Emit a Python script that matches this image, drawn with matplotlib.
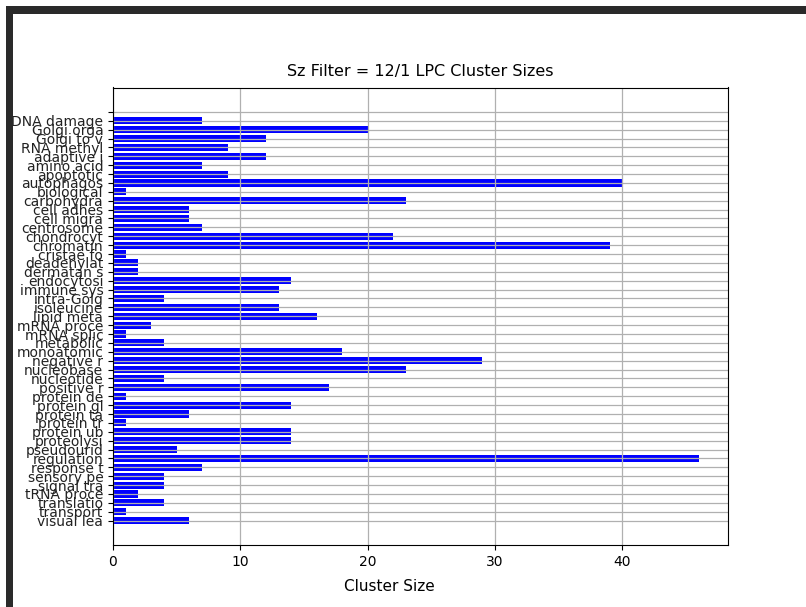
import matplotlib
matplotlib.use("Agg")
import matplotlib.pyplot as plt
from matplotlib.patches import Rectangle

categories = ["", "DNA damage", "Golgi orga", "Golgi to v", "RNA methyl", "adaptive i",
              "amino acid", "apoptotic", "autophagos", "biological", "carbohydra",
              "cell adhes", "cell migra", "centrosome", "chondrocyt", "chromatin",
              "cristae fo", "deadenylat", "dermatan s", "endocytosi", "immune sys",
              "intra-Golg", "isoleucine", "lipid meta", "mRNA proce", "mRNA splic",
              "metabolic", "monoatomic", "negative r", "nucleobase", "nucleotide",
              "positive r", "protein de", "protein gl", "protein ta", "protein tr",
              "protein ub", "proteolysi", "pseudourid", "regulation", "response t",
              "sensory pe", "signal tra", "tRNA proce", "translatio", "transport",
              "visual lea"]
sizes = [0, 7, 20, 12, 9, 12,
         7, 9, 40, 1, 23,
         6, 6, 7, 22, 39,
         1, 2, 2, 14, 13,
         4, 13, 16, 3, 1,
         4, 18, 29, 23, 4,
         17, 1, 14, 6, 1,
         14, 14, 5, 46, 7,
         4, 4, 2, 4, 1,
         6]

title = "Sz Filter = 12/1 LPC Cluster Sizes"
xlabel = "Cluster Size"

W, H = 806, 607
fig = plt.figure(figsize=(W / 100, H / 100), dpi=100)
fig.patch.set_facecolor("white")

# screenshot frame
fig.patches.append(Rectangle((6 / W, 1 - 14 / H), 800 / W, 8 / H, transform=fig.transFigure,
                             facecolor="#2a2a2a", edgecolor="none", zorder=0))
fig.patches.append(Rectangle((6 / W, 0), 7 / W, 1 - 6 / H, transform=fig.transFigure,
                             facecolor="#2a2a2a", edgecolor="none", zorder=0))

ax = fig.add_axes([113 / W, 1 - 545 / H, 615 / W, (545 - 87.5) / H])
ypos = list(range(len(categories)))
ax.barh(ypos, sizes, color="blue")
ax.set_yticks(ypos)
ax.set_yticklabels(categories, fontsize=10, color="#222222")
ax.invert_yaxis()
ax.grid(True, color="#b0b0b0", linewidth=0.9)
ax.tick_params(axis="x", labelsize=10)
ax.set_title(title, fontsize=11.5, pad=8)
ax.set_xlabel(xlabel, fontsize=11, labelpad=8)
ax.xaxis.set_label_coords(0.449, -0.075)

fig.savefig("out.png", dpi=100)
